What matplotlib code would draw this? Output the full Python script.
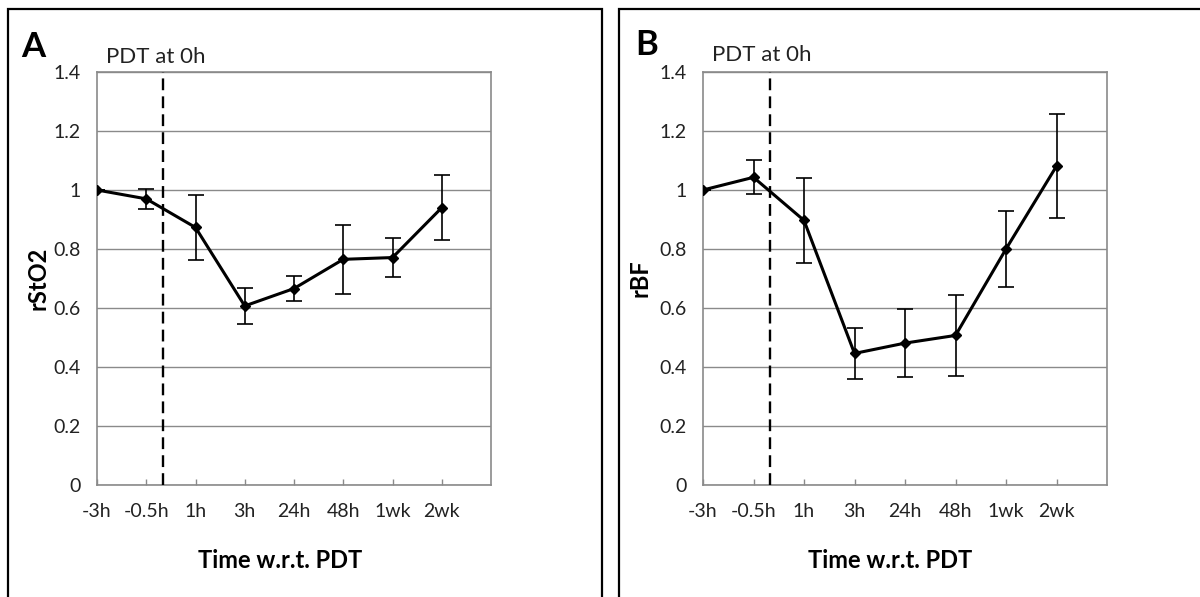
import matplotlib
matplotlib.use("Agg")
import matplotlib.pyplot as plt
from matplotlib.patches import Rectangle

# time points relative to the PDT treatment
timeLabels = ["-3h", "-0.5h", "1h", "3h", "24h", "48h", "1wk", "2wk"]

# relative tissue oxygen saturation (panel A)
rsto2Mean = [1.0, 0.97, 0.873, 0.607, 0.666, 0.765, 0.771, 0.94]
rsto2Err = [0.0, 0.034, 0.11, 0.061, 0.042, 0.118, 0.066, 0.11]

# relative blood flow (panel B)
rbfMean = [1.0, 1.043, 0.897, 0.446, 0.481, 0.507, 0.80, 1.081]
rbfErr = [0.0, 0.058, 0.145, 0.086, 0.114, 0.138, 0.13, 0.175]

# PDT happens at 0h, one third of the way from -0.5h to 1h
pdtPosition = 1 + 1.0 / 3.0

W, H = 1200, 597
plt.rcParams['font.family'] = ['Lato', 'DejaVu Sans']

fig = plt.figure(figsize=(W / 100.0, H / 100.0), dpi=100)

gridColor = '#8a8a8a'


def px(x, y):
    # convert pixel coordinates (from top-left) into figure fractions
    return x / float(W), 1 - y / float(H)


def drawPanel(left, right, top, bottom, means, errs, yLabel, yLabelX, xLabelX,
              letter, letterX, letterY, pdtX, pdtY):
    l, b = px(left, bottom)
    r, t = px(right, top)
    ax = fig.add_axes([l, b, r - l, t - b])

    idx = list(range(len(timeLabels)))
    ax.errorbar(idx, means, yerr=errs, color='black', lw=2.2, marker='D', ms=5.5,
                ecolor='black', elinewidth=1.2, capsize=6, capthick=1.2, zorder=4)

    ax.axvline(pdtPosition, color='black', lw=1.7, linestyle=(0, (5, 2.6)), zorder=3)

    ax.set_xlim(0, len(timeLabels))
    ax.set_ylim(0, 1.4)
    ax.set_yticks([0, 0.2, 0.4, 0.6, 0.8, 1.0, 1.2, 1.4])
    ax.set_yticklabels(['0', '0.2', '0.4', '0.6', '0.8', '1', '1.2', '1.4'])
    ax.set_xticks(idx)
    ax.set_xticklabels(timeLabels)

    ax.yaxis.grid(True, color=gridColor, lw=1.0)
    ax.set_axisbelow(True)
    for s in ax.spines.values():
        s.set_color(gridColor)
        s.set_linewidth(1.2)

    ax.tick_params(axis='y', length=0, pad=12, labelsize=14, colors='#222222')
    ax.tick_params(axis='x', direction='in', length=4.5, width=1.0, color=gridColor,
                   pad=13, labelsize=14, labelcolor='#222222')

    ax.set_xlabel('Time w.r.t. PDT', fontsize=17, fontweight='bold', va='center')
    ax.xaxis.set_label_coords(xLabelX, -(560 - bottom) / float(bottom - top))
    ax.set_ylabel(yLabel, fontsize=17, fontweight='bold', va='center')
    ax.yaxis.set_label_coords(yLabelX, 0.5)

    fx, fy = px(letterX, letterY)
    fig.text(fx, fy, letter, fontsize=25, fontweight='bold', va='baseline')
    fx, fy = px(pdtX, pdtY)
    fig.text(fx, fy, 'PDT at 0h', fontsize=16, va='baseline', color='#222222')
    return ax


# panel frames
fig.patches.append(Rectangle(px(8, 650), (602 - 8) / float(W), 641 / float(H),
                             transform=fig.transFigure, fill=False, ec='black', lw=1.6))
fig.patches.append(Rectangle(px(619, 650), (1250 - 619) / float(W), 641 / float(H),
                             transform=fig.transFigure, fill=False, ec='black', lw=1.6))

drawPanel(97, 491, 72, 485, rsto2Mean, rsto2Err, 'rStO2', -0.15, 0.465,
          'A', 21, 57, 106, 63)
drawPanel(703, 1107, 72, 485, rbfMean, rbfErr, 'rBF', -0.156, 0.463,
          'B', 635, 55, 712, 61)

fig.savefig('out.png', dpi=100)
